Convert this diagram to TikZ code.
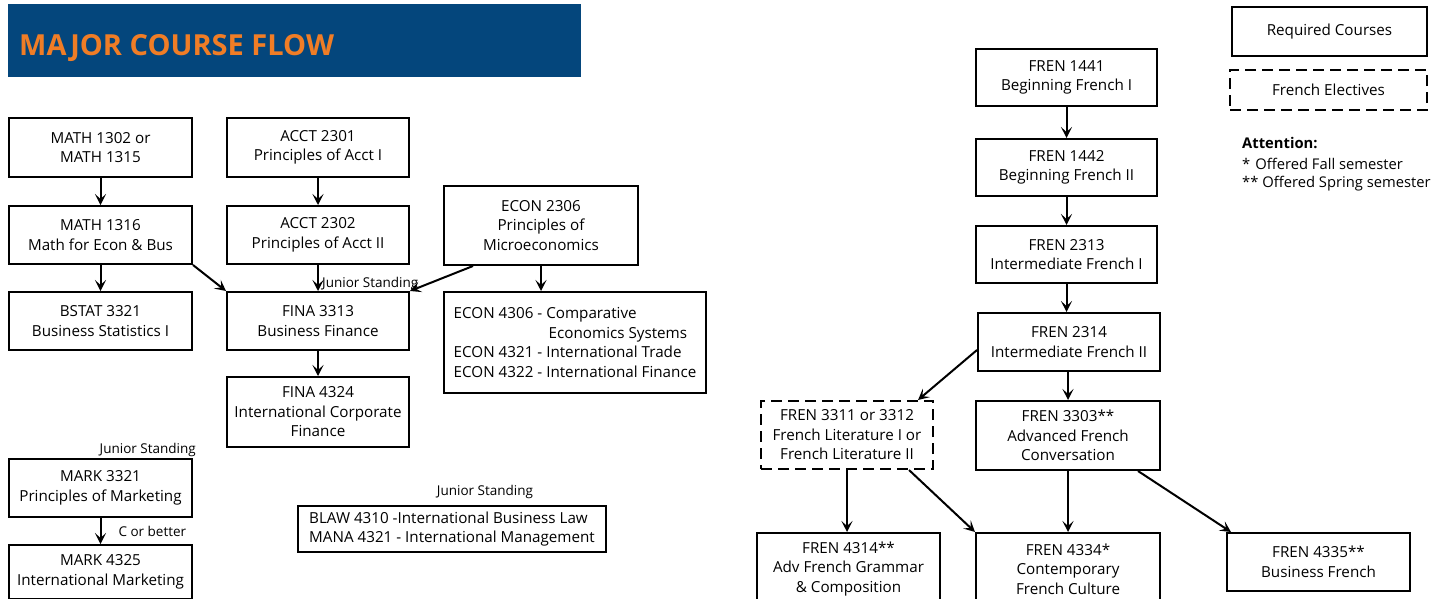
\documentclass[tikz,border=0pt]{standalone}
\usepackage{fontspec}
\setmainfont{Open Sans}
\usepackage{xcolor}
\definecolor{headblue}{RGB}{4,70,124}
\definecolor{headorange}{RGB}{240,125,38}
\tikzset{%
    course/.style={draw=black, line width=2pt, align=center, inner sep=0pt, font=\fontsize{15.2}{19.5}\selectfont},
    elective/.style={course, dash pattern=on 11pt off 6pt},
    prereq/.style={-{Stealth[length=11pt, width=11pt, inset=5pt]}, line width=2pt},
    note/.style={font=\fontsize{13.5}{15}\selectfont, inner sep=1pt}
}
\usetikzlibrary{arrows.meta, positioning}

\begin{document}
\begin{tikzpicture}[x=1pt, y=-1pt]
    \path[use as bounding box, clip] (0,0) rectangle (1434,598);
    \node[fill=headblue, minimum width=573pt, minimum height=73pt, inner sep=0pt] (header) at (294.5,40.5) {};
    \node[anchor=west, inner sep=0pt, text=headorange, font=\fontsize{29}{30}\selectfont\bfseries] (title) at (19,48) {MAJOR COURSE FLOW};

    \node[course, minimum width=183pt, minimum height=59pt] (math1302) at (100.5,147.5) {MATH 1302 or\\MATH 1315};
    \node[course, minimum width=182pt, minimum height=59pt] (acct2301) at (318,147.5) {ACCT 2301\\Principles of Acct I};
    \node[course, minimum width=183pt, minimum height=58pt] (math1316) at (100.5,235) {MATH 1316\\Math for Econ \& Bus};
    \node[course, minimum width=182pt, minimum height=58pt] (acct2302) at (318,235) {ACCT 2302\\Principles of Acct II};
    \node[course, minimum width=194pt, minimum height=79pt] (econ2306) at (541,225.5) {ECON 2306\\Principles of\\Microeconomics};
    \node[course, minimum width=183pt, minimum height=58pt] (bstat3321) at (100.5,321) {BSTAT 3321\\Business Statistics I};
    \node[course, minimum width=182pt, minimum height=58pt] (fina3313) at (318,321) {FINA 3313\\Business Finance};
    \node[course, align=left, minimum width=262pt, minimum height=101pt] (econlist) at (575,342.5) {ECON 4306 - Comparative\\\hspace*{95pt}Economics Systems\\ECON 4321 - International Trade\\ECON 4322 - International Finance};
    \node[course, minimum width=182pt, minimum height=70pt] (fina4324) at (318,412) {FINA 4324\\International Corporate\\Finance};
    \node[course, minimum width=183pt, minimum height=58pt] (mark3321) at (100.5,488) {MARK 3321\\Principles of Marketing};
    \node[course, minimum width=183pt, minimum height=54pt] (mark4325) at (100.5,572) {MARK 4325\\International Marketing};
    \node[course, align=left, minimum width=308pt, minimum height=46pt] (blaw4310) at (452,529) {BLAW 4310 -International Business Law\\MANA 4321 - International Management};

    \node[note, anchor=south west] (junior1) at ([xshift=3pt, yshift=-1pt]fina3313.north) {Junior Standing};
    \node[note, anchor=south east] (junior2) at ([xshift=4pt]mark3321.north east) {Junior Standing};
    \node[note, anchor=south] (junior3) at ([xshift=33pt, yshift=5pt]blaw4310.north) {Junior Standing};

    \draw[prereq] (math1302) -- (math1316);
    \draw[prereq] (math1316) -- (bstat3321);
    \draw[prereq] (math1316.south east) -- (fina3313.north west);
    \draw[prereq] (acct2301) -- (acct2302);
    \draw[prereq] (acct2302) -- (fina3313);
    \draw[prereq] ([xshift=30pt]econ2306.south west) -- (fina3313.north east);
    \draw[prereq] (econ2306) -- (econ2306 |- econlist.north);
    \draw[prereq] (fina3313) -- (fina4324);
    \draw[prereq] (mark3321) -- node[note, right, xshift=16pt] (cbetter) {C or better} (mark4325);

    \node[course, minimum width=181pt, minimum height=57pt] (fren1441) at (1066.5,77.5) {FREN 1441\\Beginning French I};
    \node[course, minimum width=181pt, minimum height=57pt] (fren1442) at (1066.5,167.5) {FREN 1442\\Beginning French II};
    \node[course, minimum width=181pt, minimum height=57pt] (fren2313) at (1066.5,254.5) {FREN 2313\\Intermediate French I};
    \node[course, minimum width=182pt, minimum height=58pt] (fren2314) at (1069,342) {FREN 2314\\Intermediate French II};
    \node[elective, minimum width=172pt, minimum height=68pt] (fren3311) at (847,435) {FREN 3311 or 3312\\French Literature I or\\French Literature II};
    \node[course, minimum width=184pt, minimum height=69pt] (fren3303) at (1068,435.5) {FREN 3303**\\Advanced French\\Conversation};
    \node[course, minimum width=183pt, minimum height=72pt] (fren4314) at (848.5,569) {FREN 4314**\\Adv French Grammar\\\& Composition};
    \node[course, minimum width=184pt, minimum height=72pt] (fren4334) at (1068,569) {FREN 4334*\\Contemporary\\French Culture};
    \node[course, minimum width=183pt, minimum height=58pt] (fren4335) at (1318.5,562) {FREN 4335**\\Business French};

    \draw[prereq] (fren1441) -- (fren1442);
    \draw[prereq] (fren1442) -- (fren2313);
    \draw[prereq] (fren2313) -- (fren2313 |- fren2314.north);
    \draw[prereq] (fren3303 |- fren2314.south) -- (fren3303);
    \draw[prereq] ([yshift=-8pt]fren2314.west) -- ([xshift=-16pt]fren3311.north east);
    \draw[prereq] (fren3311) -- (fren3311 |- fren4314.north);
    \draw[prereq] ([xshift=-25pt]fren3311.south east) -- (fren4334.north west);
    \draw[prereq] (fren3303) -- (fren4334);
    \draw[prereq] ([xshift=-23pt]fren3303.south east) -- ([xshift=5pt]fren4335.north west);

    \node[course, minimum width=195pt, minimum height=49pt] (legreq) at (1329.5,31.5) {Required Courses};
    \node[elective, minimum width=197pt, minimum height=40pt] (legelec) at (1328.5,90) {French Electives};
    \node[anchor=west, inner sep=0pt, font=\fontsize{14.75}{16}\selectfont\bfseries] (attn) at (1242,143) {Attention:};
    \node[anchor=west, inner sep=0pt, font=\fontsize{14.75}{16}\selectfont] (fall) at (1242,164) {*\hspace{5pt}Offered Fall semester};
    \node[anchor=west, inner sep=0pt, font=\fontsize{14.75}{16}\selectfont] (spring) at (1242,184) {** Offered Spring semester};
\end{tikzpicture}
\end{document}
